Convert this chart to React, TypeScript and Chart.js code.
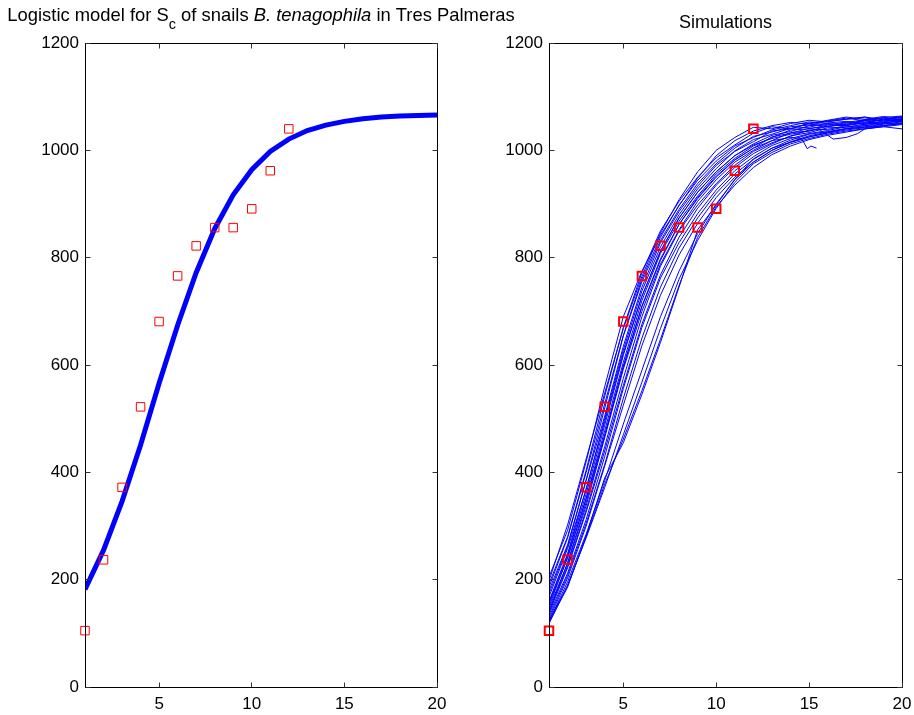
import React, { useEffect, useRef } from 'react';
import { Chart, registerables } from 'chart.js';

Chart.register(...registerables);

// ---------- data ----------
const X_STEPS = [1, 2, 3, 4, 5, 6, 7, 8, 9, 10, 11, 12, 13, 14, 15, 16, 17, 18, 19, 20];
const FIT_VALUES = [182, 255, 346, 451, 566, 674, 772, 854, 917, 964, 998, 1021, 1037, 1047, 1054, 1059, 1062, 1064, 1065, 1066];

const OBS_X = [1, 2, 3, 4, 5, 6, 7, 8, 9, 10, 11, 12];
const OBS_VALUES = [105, 237, 372, 522, 681, 766, 822, 856, 856, 891, 962, 1040];

const X_TICKS = [5, 10, 15, 20];
const Y_TICKS = [0, 200, 400, 600, 800, 1000, 1200];

const SIM_1 = [205, 292, 420, 560, 690, 775, 842, 897, 948, 990, 1018, 1036, 1046, 1052, 1049, 1056, 1062, 1058, 1063, 1060];
const SIM_2 = [198, 302, 425, 548, 668, 765, 846, 908, 960, 1000, 1024, 1043, 1040, 1050, 1056, 1053, 1058, 1062, 1057, 1063];
const SIM_3 = [192, 280, 404, 542, 670, 772, 850, 905, 950, 986, 1010, 1032, 1044, 1040, 1051, 1055, 1060, 1055, 1061, 1064];
const SIM_4 = [186, 278, 400, 528, 655, 760, 838, 898, 944, 980, 1008, 1024, 1038, 1046, 1053, 1050, 1048, 1057, 1060, 1056];
const SIM_5 = [180, 265, 386, 520, 654, 755, 832, 890, 938, 975, 1004, 1026, 1034, 1044, 1047, 1054, 1058, 1062, 1054, 1059];
const SIM_6 = [174, 262, 385, 505, 635, 745, 828, 886, 933, 972, 998, 1016, 1036, 1040, 1050, 1044, 1052, 1057, 1061, 1056];
const SIM_7 = [168, 258, 368, 500, 628, 738, 820, 880, 928, 966, 999, 1020, 1030, 1041, 1043, 1051, 1054, 1050, 1058, 1062];
const SIM_8 = [160, 248, 370, 495, 622, 728, 812, 874, 922, 960, 990, 1012, 1028, 1035, 1046, 1048, 1046, 1055, 1056, 1061];
const SIM_9 = [155, 240, 352, 478, 605, 720, 808, 868, 915, 956, 985, 1008, 1024, 1038, 1040, 1047, 1053, 1048, 1055, 1057];
const SIM_10 = [150, 242, 350, 470, 596, 708, 795, 862, 910, 950, 982, 1004, 1025, 1032, 1041, 1044, 1050, 1055, 1050, 1057];
const SIM_11 = [147, 230, 338, 465, 592, 700, 788, 852, 905, 945, 978, 1000, 1018, 1033, 1036, 1045, 1047, 1052, 1058, 1053];
const SIM_12 = [142, 225, 330, 448, 575, 690, 784, 850, 898, 938, 972, 998, 1014, 1026, 1038, 1039, 1046, 1051, 1053, 1058];
const SIM_13 = [138, 222, 326, 440, 562, 676, 768, 838, 892, 935, 968, 994, 1012, 1027, 1033, 1042, 1043, 1049, 1051, 1056];
const SIM_14 = [135, 212, 312, 430, 556, 670, 762, 828, 882, 926, 962, 988, 1009, 1022, 1031, 1037, 1044, 1046, 1052, 1054];
const SIM_15 = [130, 208, 305, 415, 538, 650, 745, 818, 874, 920, 956, 983, 1004, 1019, 1030, 1035, 1041, 1046, 1049, 1053];
const SIM_16 = [126, 203, 300, 412, 525, 636, 730, 805, 864, 912, 950, 978, 1000, 1016, 1027, 1034, 1040, 1043, 1049, 1051];
const SIM_17 = [122, 196, 285, 385, 490, 590, 690, 775, 845, 900, 945, 978, 1000, 1015, 1025, 1033, 1040, 1044, 1046, 1050];
const SIM_18 = [118, 190, 278, 372, 470, 568, 668, 760, 832, 892, 940, 975, 996, 1012, 1022, 1030, 1036, 1040, 1044, 1048];
const SIM_19 = [124, 188, 280, 378, 462, 552, 648, 748, 838, 895, 935, 968, 992, 1008, 1020, 1028, 1034, 1040, 1044, 1040];
const SIM_20 = [120, 186, 282, 390, 455, 545, 642, 745, 852, 898, 946, 984, 1004, 1015, 1025, 1032, 1038, 1042, 1046, 1050];

const SIM_21_X = [1, 2, 3, 4, 5, 6, 7, 8, 9, 10, 11, 12, 13, 14, 14.6, 14.9, 15.1, 15.4];
const SIM_21 = [140, 232, 344, 468, 598, 710, 798, 862, 912, 952, 982, 1004, 1018, 1024, 1022, 1003, 1008, 1004];

const SIM_22_X = [1, 2, 3, 4, 5, 6, 7, 8, 9, 10, 11, 12, 13, 14, 15, 15.5, 16, 16.3, 17, 17.6, 18, 19, 20];
const SIM_22 = [158, 246, 360, 488, 618, 728, 812, 874, 922, 960, 990, 1010, 1022, 1030, 1036, 1040, 1028, 1021, 1024, 1031, 1040, 1046, 1050];

const SIMULATIONS = [SIM_1, SIM_2, SIM_3, SIM_4, SIM_5, SIM_6, SIM_7, SIM_8, SIM_9, SIM_10,
  SIM_11, SIM_12, SIM_13, SIM_14, SIM_15, SIM_16, SIM_17, SIM_18, SIM_19, SIM_20];

const LEFT_TITLE = [
  { text: 'Logistic model for S', style: 'normal' },
  { text: 'c', style: 'sub' },
  { text: ' of snails ', style: 'normal' },
  { text: 'B. tenagophila', style: 'italic' },
  { text: ' in Tres Palmeras', style: 'normal' },
];
const RIGHT_TITLE = [{ text: 'Simulations', style: 'normal' }];

// ---------- helpers ----------
const FAMILY = '"Liberation Sans", Arial, Helvetica, sans-serif';
const TICK_SIZE = 17;

const pts = (xs: number[], ys: number[]) => ys.map((y, i) => ({ x: xs[i], y }));

const fontFor = (style: string, size: number) => {
  if (style === 'italic') return `italic ${size}px ${FAMILY}`;
  if (style === 'sub') return `${size - 4}px ${FAMILY}`;
  return `${size}px ${FAMILY}`;
};

const framePlugin = {
  id: 'matlabFrame',
  afterDraw(chart: any, _args: any, opts: any) {
    const { ctx, chartArea: a, scales } = chart;
    ctx.save();
    const L = Math.floor(a.left) + 0.5;
    const R = Math.floor(a.right) + 0.5;
    const T = Math.floor(a.top) + 0.5;
    const B = Math.floor(a.bottom) + 0.5;
    ctx.strokeStyle = '#000';
    ctx.lineWidth = 1;
    ctx.strokeRect(L, T, R - L, B - T);
    const tl = 5;
    ctx.strokeStyle = '#333';
    ctx.beginPath();
    X_TICKS.forEach((v) => {
      const px = Math.floor(scales.x.getPixelForValue(v)) + 0.5;
      ctx.moveTo(px, B);
      ctx.lineTo(px, B - tl);
      ctx.moveTo(px, T);
      ctx.lineTo(px, T + tl);
    });
    Y_TICKS.forEach((v) => {
      const py = Math.floor(scales.y.getPixelForValue(v)) + 0.5;
      ctx.moveTo(L, py);
      ctx.lineTo(L + tl, py);
      ctx.moveTo(R, py);
      ctx.lineTo(R - tl, py);
    });
    ctx.stroke();

    // title with mixed formatting (subscript, italic)
    const segs = opts.segments || [];
    const size = opts.size || 18;
    ctx.fillStyle = '#000';
    ctx.textBaseline = 'alphabetic';
    ctx.textAlign = 'left';
    let total = 0;
    const widths = segs.map((s: any) => {
      ctx.font = fontFor(s.style, size);
      const w = ctx.measureText(s.text).width;
      total += w;
      return w;
    });
    let x = (a.left + a.right) / 2 - total / 2;
    segs.forEach((s: any, i: number) => {
      ctx.font = fontFor(s.style, size);
      ctx.fillText(s.text, x, opts.baseline + (s.style === 'sub' ? 8 : 0));
      x += widths[i];
    });
    ctx.restore();
  },
};

const tickFont = { size: TICK_SIZE, family: FAMILY };

const makeScales = (yWidth: number) => ({
  x: {
    type: 'linear',
    min: 1,
    max: 20,
    grid: { display: false, drawTicks: false, tickLength: 0 },
    border: { display: false },
    ticks: { color: '#000', font: tickFont, padding: 7, maxRotation: 0, callback: (v: any) => String(v) },
    afterBuildTicks: (s: any) => { s.ticks = X_TICKS.map((v) => ({ value: v })); },
    afterFit: (s: any) => { s.height = 28; s.paddingLeft = 0; s.paddingRight = 0; },
  },
  y: {
    type: 'linear',
    min: 0,
    max: 1200,
    grid: { display: false, drawTicks: false, tickLength: 0 },
    border: { display: false },
    ticks: { color: '#000', font: tickFont, padding: 6, callback: (v: any) => String(v) },
    afterBuildTicks: (s: any) => { s.ticks = Y_TICKS.map((v) => ({ value: v })); },
    afterFit: (s: any) => { s.width = yWidth; s.paddingTop = 0; s.paddingBottom = 0; },
  },
});

const baseOptions = (yWidth: number, rightPad: number, segments: any[], baseline: number, size: number) => ({
  responsive: false,
  animation: false,
  devicePixelRatio: 1,
  layout: { padding: { left: 0, right: rightPad, top: 43, bottom: 0 } },
  plugins: {
    legend: { display: false },
    title: { display: false },
    tooltip: { enabled: false },
    matlabFrame: { segments, baseline, size },
  },
  scales: makeScales(yWidth),
});

const FULL_W = 914;
const HALF_W = 457;
const H = 715;

const lineSet = (xs: number[], ys: number[]) => ({
  data: pts(xs, ys),
  borderColor: '#0000ff',
  borderWidth: 1,
  pointRadius: 0,
  tension: 0,
  fill: false,
  order: 1,
});

export default function App() {
  const leftRef = useRef<HTMLCanvasElement | null>(null);
  const rightRef = useRef<HTMLCanvasElement | null>(null);

  useEffect(() => {
    Chart.defaults.font.family = FAMILY;
    const left = new Chart(leftRef.current as HTMLCanvasElement, {
      type: 'line',
      data: {
        datasets: [
          {
            data: pts(OBS_X, OBS_VALUES),
            showLine: false,
            pointStyle: 'rect',
            pointRadius: 6,
            borderColor: '#ff0000',
            backgroundColor: 'rgba(0,0,0,0)',
            pointBorderWidth: 1,
            clip: false,
            order: 0,
          } as any,
          {
            data: pts(X_STEPS, FIT_VALUES),
            borderColor: '#0000ff',
            borderWidth: 5,
            pointRadius: 0,
            tension: 0,
            fill: false,
            order: 1,
          },
        ],
      },
      options: baseOptions(85, FULL_W - 437, LEFT_TITLE, 21, 18.4) as any,
      plugins: [framePlugin as any],
    });

    const simSets: any[] = SIMULATIONS.map((s) => lineSet(X_STEPS, s));
    simSets.push(lineSet(SIM_21_X, SIM_21));
    simSets.push(lineSet(SIM_22_X, SIM_22));

    const right = new Chart(rightRef.current as HTMLCanvasElement, {
      type: 'line',
      data: {
        datasets: [
          {
            data: pts(OBS_X, OBS_VALUES),
            showLine: false,
            pointStyle: 'rect',
            pointRadius: 6,
            borderColor: '#ff0000',
            backgroundColor: 'rgba(0,0,0,0)',
            pointBorderWidth: 2,
            clip: false,
            order: 0,
          } as any,
          ...simSets,
        ],
      },
      options: baseOptions(92, 12, RIGHT_TITLE, 28, 18) as any,
      plugins: [framePlugin as any],
    });

    return () => {
      left.destroy();
      right.destroy();
    };
  }, []);

  return (
    <div style={{ position: 'absolute', left: 0, top: 0, width: FULL_W, height: H, background: '#fff' }}>
      <canvas ref={leftRef} width={FULL_W} height={H} style={{ position: 'absolute', left: 0, top: 0, width: FULL_W, height: H }} />
      <canvas ref={rightRef} width={HALF_W} height={H} style={{ position: 'absolute', left: HALF_W, top: 0, width: HALF_W, height: H }} />
    </div>
  );
}
